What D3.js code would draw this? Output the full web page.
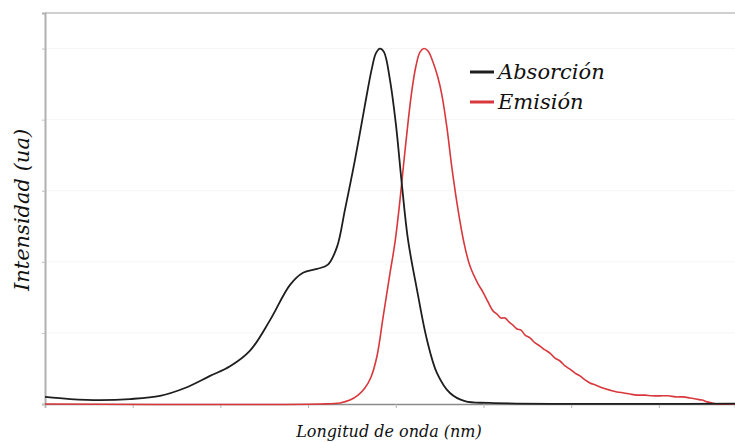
<!DOCTYPE html>
<html>
<head>
<meta charset="utf-8">
<script src="https://cdn.jsdelivr.net/npm/d3@7"></script>
<style>
    body { margin: 0; background: #fff; }
    text { font-family: "DejaVu Serif", serif; font-style: italic; fill: #111; }
</style>
</head>
<body>
<div id="chart"></div>
<script>
// wavelength (nm) and normalised intensity
const absWave = [300, 314.3, 331.4, 348.5, 365.6, 379.8, 394.1, 405.5, 416.9, 428.3,
    439.7, 447.1, 455.1, 461.3, 466.5, 471.0, 476.7, 482.4, 486.4, 488.7,
    491.0, 493.3, 496.7, 500.1, 503.5, 507.0, 512.1, 517.8, 523.5, 530.9,
    539.4, 553.7, 693.4];
const absInt = [0.020, 0.014, 0.011, 0.014, 0.023, 0.045, 0.079, 0.106, 0.150, 0.236,
    0.335, 0.369, 0.380, 0.392, 0.442, 0.546, 0.686, 0.841, 0.945, 0.987,
    1.0, 0.990, 0.911, 0.785, 0.616, 0.461, 0.321, 0.180, 0.087, 0.031,
    0.008, 0.003, 0.001];

const emiWave = [300, 456.8, 468.2, 473.9, 478.5, 482.4, 485.9, 489.3, 492.7, 496.7,
    499.5, 502.4, 504.7, 507.0, 509.2, 511.5, 513.8, 516.1, 518.4, 521.2,
    524.1, 526.3, 529.2, 532.0, 535.5, 538.9, 542.3, 546.9, 549.7, 552.6,
    555.4, 557.7, 560.0, 562.3, 564.5, 566.8, 569.1, 571.4, 573.7, 576.5,
    579.4, 582.2, 585.1, 587.9, 590.8, 593.6, 596.5, 599.3, 602.2, 605.0,
    607.9, 610.7, 614.1, 618.1, 622.1, 626.1, 630.1, 633.5, 637.5, 642.1,
    646.1, 650.6, 655.2, 659.7, 663.7, 667.7, 671.2, 674.6, 677.4, 680.3,
    683.1, 693.4];
const emiInt = [0, 0, 0.003, 0.011, 0.025, 0.045, 0.076, 0.135, 0.242, 0.368,
    0.453, 0.574, 0.686, 0.793, 0.883, 0.951, 0.990, 1.0, 0.993, 0.962,
    0.917, 0.869, 0.776, 0.664, 0.546, 0.453, 0.388, 0.338, 0.315, 0.287,
    0.262, 0.253, 0.242, 0.242, 0.231, 0.222, 0.211, 0.208, 0.194, 0.186,
    0.172, 0.163, 0.152, 0.143, 0.129, 0.121, 0.107, 0.098, 0.087, 0.079,
    0.068, 0.059, 0.053, 0.045, 0.039, 0.034, 0.031, 0.028, 0.025, 0.025,
    0.023, 0.023, 0.023, 0.020, 0.020, 0.017, 0.014, 0.011, 0.006, 0.003,
    0, 0];

const xTicks = [300, 350, 400, 450, 500, 550, 600, 650];
const yTicks = [0, 0.2, 0.4, 0.6, 0.8, 1.0];

const seriesNames = ["Absorción", "Emisión"];
const seriesColors = ["#1e1e1e", "#d8383c"];

const width = 735,
    height = 442,
    margin = { top: 13, right: 0, bottom: 38, left: 45 };

const svg = d3
    .select("#chart")
    .append("svg")
    .attr("width", width)
    .attr("height", height);

const x = d3
    .scaleLinear()
    .domain([300, 693.4])
    .range([margin.left, width - margin.right]);

const y = d3
    .scaleLinear()
    .domain([0, 1.1])
    .range([height - margin.bottom, margin.top]);

// faint grid
svg.append("g")
    .selectAll("line")
    .data(yTicks.slice(1))
    .join("line")
    .attr("x1", margin.left)
    .attr("x2", width)
    .attr("y1", (d) => y(d))
    .attr("y2", (d) => y(d))
    .attr("stroke", "#f6f6f6");

// top border
svg.append("line")
    .attr("x1", margin.left)
    .attr("x2", width)
    .attr("y1", margin.top)
    .attr("y2", margin.top)
    .attr("stroke", "#cfcfcf")
    .attr("stroke-width", 2);

const xAxis = svg
    .append("g")
    .attr("transform", `translate(0,${height - margin.bottom})`)
    .call(d3.axisBottom(x).tickValues(xTicks).tickSize(4).tickFormat(""));
xAxis.select(".domain").attr("stroke", "#8a8a8a").attr("stroke-width", 1.5);
xAxis.selectAll(".tick line").attr("stroke", "#b5b5b5");

const yAxis = svg
    .append("g")
    .attr("transform", `translate(${margin.left},0)`)
    .call(d3.axisLeft(y).tickValues(yTicks).tickSize(3).tickFormat(""));
yAxis.select(".domain").attr("stroke", "#b0b0b0").attr("stroke-width", 2);
yAxis.selectAll(".tick line").attr("stroke", "#c0c0c0");

const line = d3
    .line()
    .x((d) => x(d[0]))
    .y((d) => y(d[1]))
    .curve(d3.curveCatmullRom.alpha(0.5));

const series = [
    d3.zip(emiWave, emiInt),
    d3.zip(absWave, absInt)
];

svg.append("path")
    .datum(series[0])
    .attr("fill", "none")
    .attr("stroke", seriesColors[1])
    .attr("stroke-width", 1.6)
    .attr("d", line);

svg.append("path")
    .datum(series[1])
    .attr("fill", "none")
    .attr("stroke", seriesColors[0])
    .attr("stroke-width", 1.8)
    .attr("d", line);

// legend
const legend = svg
    .append("g")
    .selectAll("g")
    .data(seriesNames)
    .join("g")
    .attr("transform", (d, i) => `translate(470,${72 + i * 30})`);

legend
    .append("line")
    .attr("x1", 0)
    .attr("x2", 24)
    .attr("stroke", (d, i) => seriesColors[i])
    .attr("stroke-width", 3);

legend
    .append("text")
    .attr("x", 28)
    .attr("y", 7)
    .style("font-size", "21px")
    .text((d) => d);

// axis titles
svg.append("text")
    .attr("x", 389)
    .attr("y", 437)
    .attr("text-anchor", "middle")
    .style("font-size", "16px")
    .text("Longitud de onda (nm)");

svg.append("text")
    .attr("transform", "translate(29,210) rotate(-90)")
    .attr("text-anchor", "middle")
    .style("font-size", "21px")
    .text("Intensidad (ua)");
</script>
</body>
</html>
